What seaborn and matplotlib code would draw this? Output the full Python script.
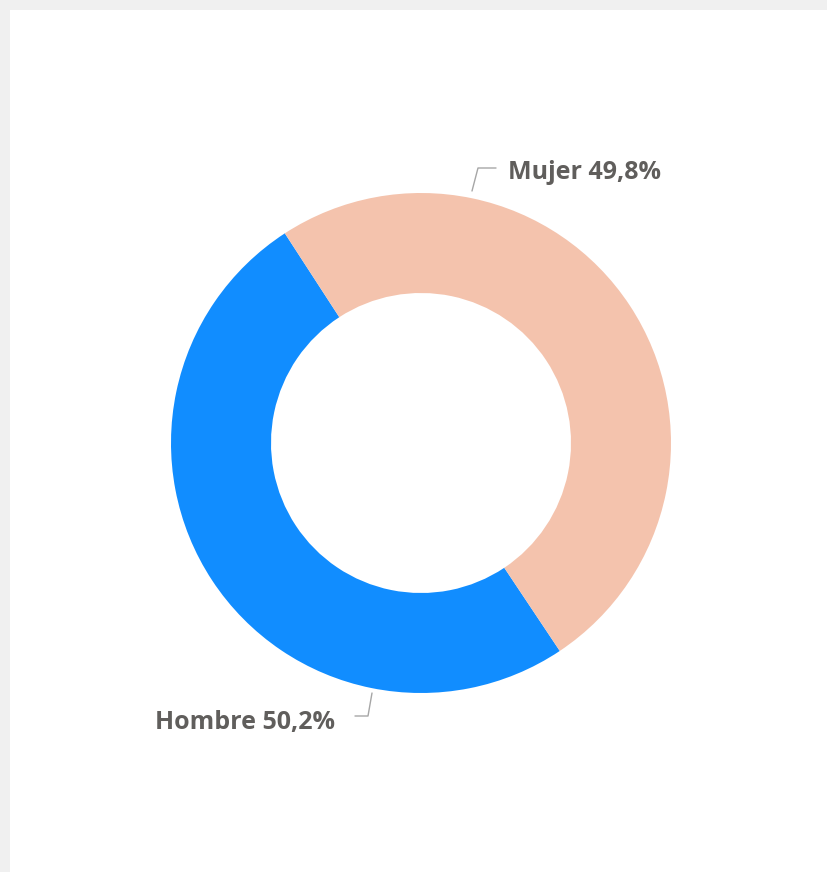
import matplotlib
matplotlib.use('Agg')
import matplotlib.pyplot as plt
import matplotlib.patches as mpatches
import seaborn as sns

# data
labels = ['Hombre', 'Mujer']
shares = [50.2, 49.8]
colors = ['#118DFF', '#F4C3AD']

sns.set_theme(style='white')
plt.rcParams['font.family'] = ['Open Sans', 'DejaVu Sans']

W, H = 828, 872
cx, cy, R = 421, 443, 250  # donut centre / radius in pixels

fig = plt.figure(figsize=(W / 100, H / 100), dpi=100, facecolor='#f0f0f0')
# white card behind the chart
fig.patches.append(mpatches.Rectangle((10 / W, 0), 1, 1 - 10 / H, transform=fig.transFigure,
                                      facecolor='white', edgecolor='none', zorder=-10))

ax = fig.add_axes([0, 0, 1, 1])
ax.set_facecolor('none')
wedges, _ = ax.pie(shares, colors=colors, startangle=123, counterclock=True,
                   radius=1, wedgeprops=dict(width=0.4, edgecolor='none'))
ax.set_xlim(-cx / R, (W - cx) / R)
ax.set_ylim(-(H - cy) / R, cy / R)
ax.set_aspect('equal')
ax.axis('off')


def px(x, y):
    return (x - cx) / R, (cy - y) / R


txt_kw = dict(fontsize=18, fontweight='bold', color='#605E5C', va='center')
line_kw = dict(color='#A6A6A6', lw=1)

# Mujer label
pts = [px(472, 191), px(478, 168), px(496, 168)]
ax.plot([p[0] for p in pts], [p[1] for p in pts], **line_kw)
ax.text(*px(508, 172), f'{labels[1]} {shares[1]:.1f}%'.replace('.', ','), ha='left', **txt_kw)

# Hombre label
pts = [px(372, 693), px(368, 716), px(355, 716)]
ax.plot([p[0] for p in pts], [p[1] for p in pts], **line_kw)
ax.text(*px(335, 722), f'{labels[0]} {shares[0]:.1f}%'.replace('.', ','), ha='right', **txt_kw)

fig.savefig('out.png', dpi=100, facecolor=fig.get_facecolor())
